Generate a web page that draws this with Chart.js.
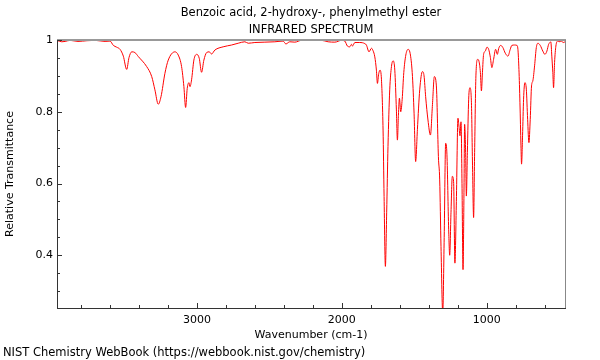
<!DOCTYPE html>
<html><head><meta charset="utf-8">
<script src="https://cdn.jsdelivr.net/npm/chart.js@4"></script>
<style>html,body{margin:0;padding:0;background:#fff}</style>
</head><body>
<canvas id="c" width="600" height="360"></canvas>
<script>
const wavenumbers = [3966,3933,3910,3876,3821,3759,3703,3634,3600,3577,3554,3531,3508,3485,3469,3450,3428,3405,3347,3312,3290,3267,3248,3221,3198,3152,3129,3106,3090,3078,3067,3055,3048,3037,3021,3002,2984,2968,2952,2933,2915,2899,2876,2819,2761,2715,2669,2646,2600,2531,2462,2405,2386,2359,2324,2278,2209,2140,2094,2048,2002,1979,1961,1945,1933,1926,1910,1876,1841,1830,1812,1795,1784,1772,1761,1754,1745,1736,1726,1715,1708,1699,1690,1681,1669,1657,1646,1634,1623,1616,1609,1602,1593,1583,1572,1558,1542,1526,1512,1501,1490,1478,1462,1443,1432,1421,1405,1388,1374,1361,1347,1333,1324,1315,1303,1293,1283,1274,1262,1255,1246,1237,1228,1219,1209,1198,1191,1184,1177,1170,1163,1156,1152,1145,1140,1133,1124,1115,1105,1097,1090,1083,1074,1062,1053,1043,1036,1029,1021,1009,998,986,974,964,952,938,926,917,903,888,871,853,837,826,807,791,784,777,770,763,759,752,745,736,726,717,708,699,690,681,669,657,646,630,612,598,584,572,563,557,550,543,538,531,522,508,494,485,471,459];
const transmittance = [0.999,0.995,0.996,0.999,0.996,0.998,0.999,0.996,0.997,0.985,0.980,0.974,0.955,0.918,0.951,0.967,0.965,0.954,0.926,0.898,0.861,0.821,0.842,0.907,0.944,0.967,0.958,0.926,0.870,0.812,0.865,0.881,0.870,0.889,0.944,0.960,0.949,0.910,0.944,0.965,0.967,0.961,0.972,0.981,0.986,0.991,0.995,0.991,0.993,0.994,0.995,0.997,0.989,0.995,0.994,0.999,0.999,0.999,0.995,0.994,0.999,0.997,0.983,0.981,0.988,0.983,0.993,0.993,0.990,0.986,0.967,0.977,0.970,0.953,0.916,0.879,0.906,0.916,0.889,0.749,0.564,0.369,0.520,0.703,0.861,0.926,0.942,0.916,0.805,0.721,0.790,0.838,0.800,0.835,0.909,0.958,0.974,0.958,0.898,0.796,0.661,0.750,0.861,0.912,0.900,0.842,0.777,0.735,0.820,0.898,0.872,0.675,0.610,0.424,0.240,0.450,0.712,0.680,0.471,0.400,0.520,0.620,0.605,0.378,0.550,0.782,0.760,0.733,0.772,0.600,0.360,0.593,0.765,0.686,0.565,0.686,0.835,0.867,0.825,0.640,0.505,0.686,0.900,0.946,0.941,0.909,0.858,0.909,0.960,0.969,0.980,0.974,0.951,0.923,0.946,0.974,0.960,0.976,0.985,0.979,0.963,0.955,0.974,0.985,0.986,0.985,0.974,0.918,0.825,0.705,0.654,0.733,0.835,0.881,0.863,0.779,0.714,0.779,0.872,0.886,0.928,0.979,0.991,0.985,0.969,0.960,0.969,0.988,0.993,0.995,0.955,0.909,0.867,0.937,0.983,0.997,0.995,0.997,0.993,0.995];
const xTickValues = [3000, 2000, 1000];
const yTickValues = [1, 0.8, 0.6, 0.4];
const titleLines = ['Benzoic acid, 2-hydroxy-, phenylmethyl ester', 'INFRARED SPECTRUM'];
const footerText = 'NIST Chemistry WebBook (https://webbook.nist.gov/chemistry)';
const xTitle = 'Wavenumber (cm-1)';
const yTitle = 'Relative Transmittance';
const xRange = [459, 3966];
const yRange = [0.253, 1];

const FONT = 'DejaVu Sans';
const font11 = {family: FONT, size: 11, weight: 'normal'};

const framePlugin = {
  id: 'frame',
  afterDraw(chart) {
    const {ctx, chartArea: a, scales: {x, y}} = chart;
    ctx.save();
    ctx.strokeStyle = '#999';
    ctx.lineWidth = 2;
    ctx.beginPath(); ctx.moveTo(a.left, a.top); ctx.lineTo(a.right + 1, a.top); ctx.stroke();
    ctx.lineWidth = 1;
    ctx.strokeStyle = '#888';
    ctx.beginPath(); ctx.moveTo(a.right + 0.5, a.top); ctx.lineTo(a.right + 0.5, a.bottom); ctx.stroke();
    ctx.strokeStyle = '#333';
    ctx.beginPath();
    for (let v = Math.ceil(x.min / 200) * 200; v <= x.max; v += 200) {
      const px = Math.round(x.getPixelForValue(v)) + 0.5;
      const len = (v % 1000 === 0) ? 5 : 3;
      ctx.moveTo(px, a.bottom); ctx.lineTo(px, a.bottom - len);
    }
    for (let k = Math.ceil(y.min / 0.05 - 1e-9); k * 0.05 <= y.max + 1e-9; k++) {
      const py = Math.round(y.getPixelForValue(k * 0.05)) + 0.5;
      const len = (k % 4 === 0) ? 5 : 3;
      ctx.moveTo(a.left, py); ctx.lineTo(a.left + len, py);
    }
    ctx.stroke();
    ctx.restore();
  }
};

new Chart(document.getElementById('c'), {
  type: 'line',
  data: {
    datasets: [{
      data: wavenumbers.map((w, i) => ({x: w, y: transmittance[i]})),
      borderColor: '#ff0000',
      borderWidth: 1,
      pointRadius: 0,
      fill: false,
      cubicInterpolationMode: 'monotone'
    }]
  },
  options: {
    responsive: false,
    animation: false,
    devicePixelRatio: 1,
    layout: {padding: {left: 3, right: 35, top: 0, bottom: 0}},
    plugins: {
      legend: {display: false},
      tooltip: {enabled: false},
      title: {display: true, fullSize: false, text: titleLines, color: '#000',
        font: {family: FONT, size: 11.5, weight: 'normal', lineHeight: '17px'},
        padding: {top: 4.5, bottom: 1.5}},
      subtitle: {display: true, position: 'bottom', align: 'start', text: footerText, color: '#000',
        font: {family: FONT, size: 11.5, weight: 'normal', lineHeight: '13px'}, padding: {top: 4, bottom: 0}}
    },
    scales: {
      x: {
        type: 'linear', reverse: true, min: xRange[0], max: xRange[1],
        grid: {display: false, drawTicks: false},
        border: {display: true, color: '#333', width: 1},
        afterBuildTicks: s => { s.ticks = xTickValues.map(v => ({value: v})); },
        ticks: {color: '#000', font: font11, padding: 6, maxRotation: 0, autoSkip: false, callback: v => String(v)},
        title: {display: true, text: xTitle, color: '#000', font: font11, padding: {top: 0, bottom: 1}},
        afterFit: s => { s.height = 35; }
      },
      y: {
        type: 'linear', min: yRange[0], max: yRange[1],
        grid: {display: false, drawTicks: false},
        border: {display: true, color: '#333', width: 1},
        afterBuildTicks: s => { s.ticks = yTickValues.map(v => ({value: v})); },
        ticks: {color: '#000', font: font11, padding: 4, autoSkip: false, callback: v => String(Math.round(v * 10) / 10)},
        title: {display: true, text: yTitle, color: '#000', font: font11, padding: {top: 1, bottom: 0}},
        afterFit: s => { s.width = 54; }
      }
    }
  },
  plugins: [framePlugin]
});
</script>
</body></html>
